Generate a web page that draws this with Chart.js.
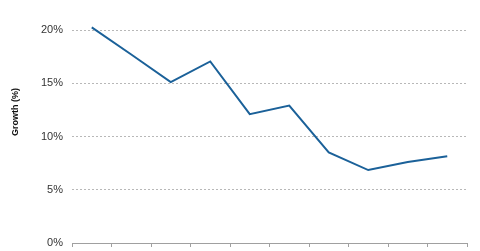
<!DOCTYPE html>
<html>
<head>
<meta charset="utf-8">
<script src="https://cdn.jsdelivr.net/npm/chart.js@4/dist/chart.umd.min.js"></script>
<style>
  html, body { margin: 0; padding: 0; background: #fff; }
  #wrap { width: 480px; height: 251px; }
</style>
</head>
<body>
<div id="wrap"><canvas id="chart"></canvas></div>
<script>
// values
const years = ['2008', '2009', '2010', '2011', '2012', '2013', '2014', '2015', '2016', '2017'];
const growth = [20.25, 17.7, 15.1, 17.05, 12.1, 12.9, 8.5, 6.85, 7.6, 8.15];
const yTicks = [0, 5, 10, 15, 20];

// y title sits a bit above the plot middle in the original
const yTitle = {
  id: 'yTitle',
  afterDraw(chart) {
    const ctx = chart.ctx;
    ctx.save();
    ctx.translate(16, 112);
    ctx.rotate(-Math.PI / 2);
    ctx.font = 'bold 9px "Liberation Sans", Arial, sans-serif';
    ctx.fillStyle = '#111';
    ctx.textAlign = 'center';
    ctx.textBaseline = 'middle';
    ctx.fillText('Growth (%)', 0, 0);
    ctx.restore();
  }
};

const ctx = document.getElementById('chart').getContext('2d');
new Chart(ctx, {
  type: 'line',
  data: {
    labels: years,
    datasets: [{
      data: growth,
      borderColor: '#1b6199',
      borderWidth: 2,
      pointRadius: 0,
      tension: 0,
      fill: false,
      clip: false
    }]
  },
  options: {
    responsive: true,
    maintainAspectRatio: false,
    animation: false,
    layout: { padding: { top: 30, right: 13, left: 0, bottom: 0 } },
    plugins: {
      legend: { display: false },
      tooltip: { enabled: false }
    },
    scales: {
      x: {
        offset: true,
        grid: {
          offset: true,
          drawOnChartArea: false,
          drawTicks: true,
          tickLength: 4,
          color: '#a0a0a0'
        },
        border: { display: true, color: '#a0a0a0', width: 1 },
        ticks: { display: false },
        afterFit(scale) { scale.height = 8; }
      },
      y: {
        min: 0,
        max: 20,
        afterBuildTicks(scale) { scale.ticks = yTicks.map(v => ({ value: v })); },
        grid: {
          drawTicks: false,
          color: '#b8b8b8',
          lineWidth: 1
        },
        border: { display: false, dash: [2, 2] },
        ticks: {
          padding: 9,
          color: '#333',
          font: { family: '"Liberation Sans", Arial, sans-serif', size: 11 },
          callback: v => v + '%'
        },
        afterFit(scale) {
          scale.width = 72;
          scale.paddingTop = 0;
          scale.paddingBottom = 0;
        }
      }
    }
  },
  plugins: [yTitle]
});
</script>
</body>
</html>
